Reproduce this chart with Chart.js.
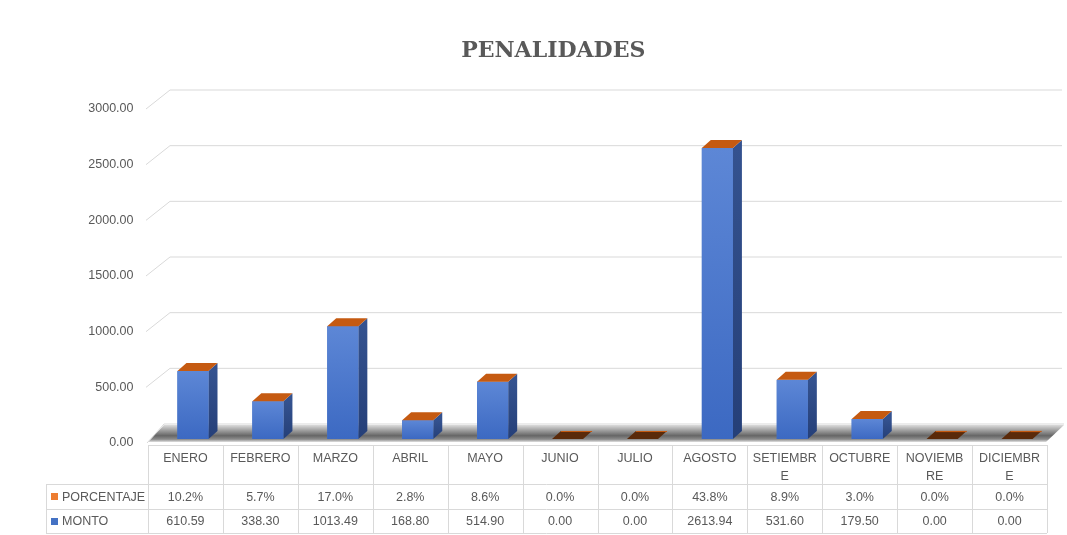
<!DOCTYPE html>
<html>
<head>
<meta charset="utf-8">
<script src="https://cdn.jsdelivr.net/npm/chart.js@4"></script>
<style>
  body { margin: 0; background: #fff; }
  #wrap { width: 1067px; height: 535px; }
</style>
</head>
<body>
<div id="wrap"><canvas id="myChart" width="1067" height="535"></canvas></div>
<script>
// datos
const meses = ['ENERO', 'FEBRERO', 'MARZO', 'ABRIL', 'MAYO', 'JUNIO', 'JULIO', 'AGOSTO',
  ['SETIEMBR', 'E'], 'OCTUBRE', ['NOVIEMB', 'RE'], ['DICIEMBR', 'E']];
const monto = [610.59, 338.30, 1013.49, 168.80, 514.90, 0.00, 0.00, 2613.94, 531.60, 179.50, 0.00, 0.00];
const porcentaje = [0.102, 0.057, 0.170, 0.028, 0.086, 0.0, 0.0, 0.438, 0.089, 0.030, 0.0, 0.0];
const yTicks = [0, 500, 1000, 1500, 2000, 2500, 3000];

const GRIS = '#595959';
const LINEA = '#d9d9d9';
const AZUL = '#4472c4';
const NARANJA = '#c55a11';
const OFF = 7.5;      // desplazamiento de la barra respecto a la columna de la tabla
const DX = 9, DY = -8; // profundidad 3D

// paredes, piso y lineas de cuadricula
const fondo3d = {
  id: 'fondo3d',
  beforeDatasetsDraw(chart) {
    const ctx = chart.ctx, y = chart.scales.y, x = chart.scales.x;
    const L = x.left - OFF;
    ctx.save();
    ctx.strokeStyle = LINEA;
    ctx.lineWidth = 1;
    yTicks.forEach(v => {
      if (v === 0) return;
      const yb = y.getPixelForValue(v);
      ctx.beginPath();
      ctx.moveTo(L - 2, yb + 4);
      ctx.lineTo(L + 22, yb - 15);
      ctx.lineTo(1062, yb - 15);
      ctx.stroke();
    });
    // piso
    const y0 = y.getPixelForValue(0);
    const g = ctx.createLinearGradient(0, y0 - 15, 0, y0 + 3);
    g.addColorStop(0, 'rgba(230,230,230,1)');
    g.addColorStop(0.35, '#a0a0a0');
    g.addColorStop(0.65, '#666666');
    g.addColorStop(0.85, '#8c8c8c');
    g.addColorStop(1, '#e0e0e0');
    ctx.fillStyle = g;
    ctx.beginPath();
    ctx.moveTo(L, y0 + 3);
    ctx.lineTo(L + 16, y0 - 14);
    ctx.lineTo(1064, y0 - 14);
    ctx.lineTo(1046, y0 + 3);
    ctx.closePath();
    ctx.fill();
    ctx.beginPath();
    ctx.moveTo(L + 16, y0 - 15);
    ctx.lineTo(1064, y0 - 15);
    ctx.moveTo(L - 1, y0 + 4);
    ctx.lineTo(L + 16, y0 - 15);
    ctx.stroke();
    ctx.restore();
  },
  afterDatasetsDraw(chart) {
    const ctx = chart.ctx;
    const mb = chart.getDatasetMeta(0).data;
    const mt = chart.getDatasetMeta(1).data;
    ctx.save();
    mb.forEach((bar, i) => {
      const p = bar.getProps(['x', 'y', 'base', 'width'], true);
      const top = mt[i].getProps(['y'], true).y;
      const l = p.x - p.width / 2, r = p.x + p.width / 2;
      if (monto[i] > 0) {
        // cara lateral
        const gs = ctx.createLinearGradient(0, top, 0, p.base);
        gs.addColorStop(0, '#34528f');
        gs.addColorStop(1, '#253f78');
        ctx.fillStyle = gs;
        ctx.beginPath();
        ctx.moveTo(r, top);
        ctx.lineTo(r + DX, top + DY);
        ctx.lineTo(r + DX, p.base + DY);
        ctx.lineTo(r, p.base);
        ctx.closePath();
        ctx.fill();
        // cara frontal
        const gf = ctx.createLinearGradient(0, top, 0, p.base);
        gf.addColorStop(0, '#5d87d6');
        gf.addColorStop(1, '#3c69c2');
        ctx.fillStyle = gf;
        ctx.fillRect(l, top, p.width, p.base - top);
        ctx.fillStyle = NARANJA;
      } else {
        ctx.fillStyle = '#5a2a0a';
      }
      // tapa (PORCENTAJE)
      ctx.beginPath();
      ctx.moveTo(l, top);
      ctx.lineTo(r, top);
      ctx.lineTo(r + DX, top + DY);
      ctx.lineTo(l + DX, top + DY);
      ctx.closePath();
      ctx.fill();
      if (monto[i] === 0) {
        ctx.strokeStyle = NARANJA;
        ctx.lineWidth = 1.2;
        ctx.beginPath();
        ctx.moveTo(l + DX, top + DY + 0.5);
        ctx.lineTo(r + DX, top + DY + 0.5);
        ctx.stroke();
      }
    });
    ctx.restore();
  }
};

// tabla de datos bajo el grafico
const tabla = {
  id: 'tabla',
  afterDraw(chart) {
    const ctx = chart.ctx, x = chart.scales.x;
    const w = x.width / meses.length;
    const L = x.left - OFF, R = L + w * meses.length;
    const t0 = 445, t1 = 484, t2 = 509, t3 = 533, lx = 46;
    ctx.save();
    ctx.strokeStyle = LINEA;
    ctx.lineWidth = 1;
    ctx.beginPath();
    ctx.moveTo(L, t0 + 0.5); ctx.lineTo(R, t0 + 0.5);
    [t1, t2, t3].forEach(t => { ctx.moveTo(lx, t + 0.5); ctx.lineTo(R, t + 0.5); });
    for (let i = 0; i <= meses.length; i++) {
      const cx = Math.round(L + i * w) + 0.5;
      ctx.moveTo(cx, t0); ctx.lineTo(cx, t3);
    }
    ctx.moveTo(lx + 0.5, t1); ctx.lineTo(lx + 0.5, t3);
    ctx.stroke();

    ctx.fillStyle = GRIS;
    ctx.font = '12.5px "Liberation Sans", Arial, sans-serif';
    ctx.textAlign = 'center';
    ctx.textBaseline = 'middle';
    meses.forEach((m, i) => {
      const cx = x.getPixelForValue(i) - OFF;
      const lines = Array.isArray(m) ? m : [m];
      lines.forEach((s, k) => ctx.fillText(s, cx, 459 + k * 18));
      ctx.fillText((porcentaje[i] * 100).toFixed(1) + '%', cx, (t1 + t2) / 2 + 1);
      ctx.fillText(monto[i].toFixed(2), cx, (t2 + t3) / 2 + 1);
    });
    // leyenda
    ctx.textAlign = 'left';
    ctx.fillStyle = '#ed7d31';
    ctx.fillRect(51, 493, 7, 7);
    ctx.fillStyle = AZUL;
    ctx.fillRect(51, 518, 7, 7);
    ctx.fillStyle = GRIS;
    ctx.fillText('PORCENTAJE', 62, (t1 + t2) / 2 + 1);
    ctx.fillText('MONTO', 62, (t2 + t3) / 2 + 1);
    ctx.restore();
  }
};

const ctx = document.getElementById('myChart').getContext('2d');
const myChart = new Chart(ctx, {
  type: 'bar',
  data: {
    labels: meses,
    datasets: [{
      label: 'MONTO',
      data: monto,
      backgroundColor: AZUL,
      borderWidth: 0
    }, {
      label: 'PORCENTAJE',
      data: porcentaje,
      backgroundColor: NARANJA,
      borderWidth: 0
    }]
  },
  options: {
    responsive: false,
    animation: false,
    categoryPercentage: 0.415,
    barPercentage: 1,
    layout: { padding: { left: 52, right: 12.5, top: 0, bottom: 96 } },
    plugins: {
      legend: { display: false },
      tooltip: { enabled: false },
      title: {
        display: true,
        text: 'PENALIDADES',
        color: GRIS,
        font: { family: '"DejaVu Serif", serif', size: 22, weight: 'bold' },
        padding: { top: 38, bottom: 40.6 }
      }
    },
    scales: {
      x: {
        stacked: true,
        display: false
      },
      y: {
        stacked: true,
        min: 0,
        max: 3000,
        afterFit(scale) { scale.width = 103.5; },
        border: { display: false },
        grid: { display: false, drawTicks: false },
        ticks: {
          stepSize: 500,
          padding: 22,
          labelOffset: 4,
          color: GRIS,
          font: { family: '"Liberation Sans", Arial, sans-serif', size: 12.5 },
          callback: v => v.toFixed(2)
        }
      }
    }
  },
  plugins: [fondo3d, tabla]
});
</script>
</body>
</html>
